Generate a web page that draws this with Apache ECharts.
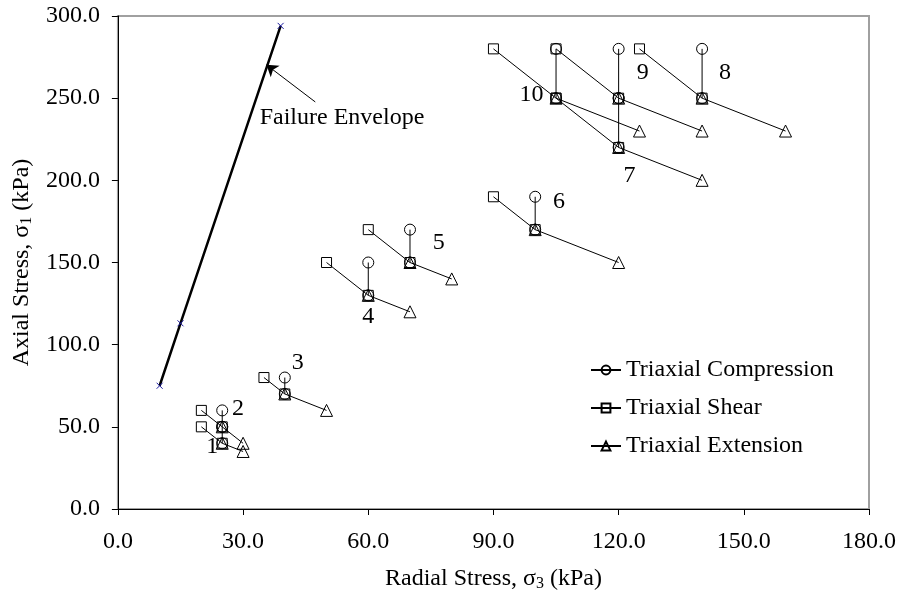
<!DOCTYPE html>
<html>
<head>
<meta charset="utf-8">
<script src="https://cdn.jsdelivr.net/npm/echarts@6/dist/echarts.min.js"></script>
<style>
  html, body { margin: 0; padding: 0; background: #fff; }
  #chart { width: 901px; height: 602px; }
</style>
</head>
<body>
<div id="chart"></div>
<script>
// Stress paths of ten triaxial tests, [sigma3, sigma1] in kPa
const testIds = ['1', '2', '3', '4', '5', '6', '7', '8', '9', '10'];
const startPoints     = [[25, 40], [25, 50], [40, 70], [60, 130], [70, 150], [100, 170], [120, 220], [140, 250], [120, 250], [105, 250]];
const compressionEnds = [[25, 50], [25, 60], [40, 80], [60, 150], [70, 170], [100, 190], [120, 250], [140, 280], [120, 280], [105, 280]];
const shearEnds       = [[20, 50], [20, 60], [35, 80], [50, 150], [60, 170], [90, 190], [105, 250], [125, 280], [105, 280], [90, 280]];
const extensionEnds   = [[30, 35], [30, 40], [50, 60], [70, 120], [80, 140], [120, 150], [140, 200], [160, 230], [140, 230], [125, 230]];

// Where each test number is written
const testLabelAt = [[22.6, 37.7], [28.8, 60.9], [43.1, 88.9], [60, 116.9], [76.9, 161.9], [105.7, 186.9], [122.6, 202.7], [145.5, 265.4], [125.8, 265.4], [99.1, 252]];

// Failure envelope
const envelopeX = [10, 15, 39];
const envelopeY = [75, 113, 294];
const envelopeNote = 'Failure Envelope';
const envelopeNoteAt = [53.7, 238];
const envelopeArrow = [[47.3, 247.7], [35.6, 270.3]];

const xTicks = { min: 0, max: 180, step: 30 };
const yTicks = { min: 0, max: 300, step: 50 };

const FONT = "'Liberation Serif', 'Times New Roman', serif";
const FS = 24;

function pathSeries(name, symbol, size, ends) {
  return testIds.map((id, i) => ({
    name: name,
    type: 'line',
    data: [startPoints[i], ends[i]],
    symbol: symbol,
    symbolSize: size,
    showSymbol: true,
    showAllSymbol: true,
    lineStyle: { color: '#000', width: 1 },
    itemStyle: { color: 'rgba(255,255,255,0)', borderColor: '#000', borderWidth: 1 },
    emphasis: { disabled: true },
    silent: true,
    z: 3
  }));
}

const series = [].concat(
  pathSeries('Triaxial Compression', 'circle', 11, compressionEnds),
  pathSeries('Triaxial Shear', 'rect', 10, shearEnds),
  pathSeries('Triaxial Extension', 'triangle', 12, extensionEnds)
);

series.push({
  name: 'envelope',
  type: 'line',
  data: envelopeX.map((x, i) => [x, envelopeY[i]]),
  symbol: 'path://M0,0L10,10M10,0L0,10',
  symbolSize: 6,
  showSymbol: true,
  lineStyle: { color: '#000', width: 2.5 },
  itemStyle: { color: 'rgba(0,0,0,0)', borderColor: '#1a1aa0', borderWidth: 1 },
  emphasis: { disabled: true },
  silent: true,
  z: 4,
  markLine: {
    silent: true,
    symbol: ['none', 'arrow'],
    symbolSize: 11,
    lineStyle: { color: '#000', width: 1, type: 'solid' },
    label: { show: false },
    emphasis: { disabled: true },
    data: [[{ coord: envelopeArrow[0] }, { coord: envelopeArrow[1] }]]
  }
});

series.push({
  name: 'labels',
  type: 'scatter',
  data: testIds.map((id, i) => ({ name: id, value: testLabelAt[i] }))
    .concat([{ name: envelopeNote, value: envelopeNoteAt }]),
  symbolSize: 1,
  itemStyle: { color: 'rgba(0,0,0,0)' },
  label: {
    show: true,
    position: 'inside',
    formatter: p => p.name,
    fontFamily: FONT,
    fontSize: FS,
    color: '#000',
    opacity: 1,
    textBorderWidth: 0
  },
  emphasis: { disabled: true },
  silent: true,
  z: 5
});

const chart = echarts.init(document.getElementById('chart'), null, { renderer: 'canvas' });
chart.setOption({
  animation: false,
  backgroundColor: '#fff',
  textStyle: { fontFamily: FONT },
  grid: {
    left: 101, right: 32, top: 16, bottom: 93,
    show: true, borderColor: '#a0a0a0', borderWidth: 2, backgroundColor: 'rgba(0,0,0,0)'
  },
  legend: {
    data: ['Triaxial Compression', 'Triaxial Shear', 'Triaxial Extension'],
    orient: 'vertical',
    left: 585,
    top: 353,
    itemWidth: 30,
    itemHeight: 11,
    itemGap: 14,
    selectedMode: false,
    textStyle: { fontFamily: FONT, fontSize: FS, color: '#000' }
  },
  xAxis: {
    type: 'value',
    min: xTicks.min, max: xTicks.max, interval: xTicks.step,
    name: 'Radial Stress, σ{s|3} (kPa)',
    nameLocation: 'middle',
    nameGap: 56,
    nameTextStyle: {
      fontFamily: FONT, fontSize: FS, color: '#000', lineHeight: 27,
      rich: { s: { fontFamily: FONT, fontSize: 16, lineHeight: 17, verticalAlign: 'bottom', color: '#000' } }
    },
    axisLine: { show: true, onZero: false, lineStyle: { color: '#000', width: 1 } },
    axisTick: { show: true, length: 6, lineStyle: { color: '#000', width: 1 } },
    axisLabel: { margin: 21, fontFamily: FONT, fontSize: FS, color: '#000', formatter: v => v.toFixed(1) },
    splitLine: { show: false }
  },
  yAxis: {
    type: 'value',
    min: yTicks.min, max: yTicks.max, interval: yTicks.step,
    name: 'Axial Stress, σ{s|1} (kPa)',
    nameLocation: 'middle',
    nameGap: 68,
    nameTextStyle: {
      fontFamily: FONT, fontSize: FS, color: '#000', lineHeight: 27,
      rich: { s: { fontFamily: FONT, fontSize: 16, lineHeight: 17, verticalAlign: 'bottom', color: '#000' } }
    },
    axisLine: { show: true, onZero: false, lineStyle: { color: '#000', width: 1 } },
    axisTick: { show: true, length: 6, lineStyle: { color: '#000', width: 1 } },
    axisLabel: { margin: 18, fontFamily: FONT, fontSize: FS, color: '#000', formatter: v => v.toFixed(1) },
    splitLine: { show: false }
  },
  series: series
});
</script>
</body>
</html>
